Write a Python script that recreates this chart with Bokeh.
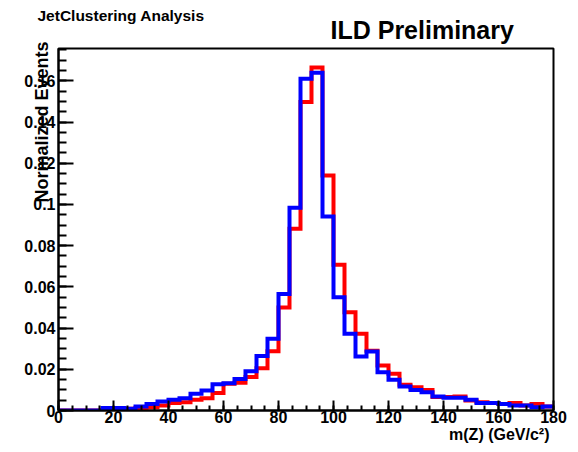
import math
from bokeh.plotting import figure
from bokeh.models import Range1d, FixedTicker, CustomJSTickFormatter, Label
from bokeh.embed import file_html
from bokeh.resources import INLINE

# ---------------- data ----------------
bin_edges = list(range(0, 181, 4))  # 45 bins of 4 GeV

red_vals = [0.0, 0.0, 0.0, 0.0, 0.0003, 0.0005, 0.0008, 0.0012, 0.0016, 0.0024,
            0.0036, 0.0040, 0.0052, 0.0060, 0.0085, 0.0130, 0.0135, 0.0162, 0.0205, 0.0288,
            0.0500, 0.0882, 0.1497, 0.1665, 0.1141, 0.0707, 0.0477, 0.0372, 0.0290, 0.0218,
            0.0178, 0.0125, 0.0113, 0.0100, 0.0065, 0.0065, 0.0068, 0.0049, 0.0040, 0.0036,
            0.0032, 0.0036, 0.0024, 0.0032, 0.0019]

blue_vals = [0.0, 0.0, 0.0, 0.0, 0.0012, 0.0012, 0.0008, 0.0020, 0.0032, 0.0044,
             0.0052, 0.0060, 0.0081, 0.0097, 0.0128, 0.0132, 0.0153, 0.0190, 0.0265, 0.0348,
             0.0566, 0.0984, 0.1610, 0.1639, 0.0942, 0.0550, 0.0372, 0.0262, 0.0286, 0.0186,
             0.0149, 0.0117, 0.0099, 0.0089, 0.0068, 0.0062, 0.0062, 0.0052, 0.0036, 0.0036,
             0.0032, 0.0024, 0.0024, 0.0016, 0.0019]

x_ticks = [0, 20, 40, 60, 80, 100, 120, 140, 160, 180]
x_tick_labels = ["0", "20", "40", "60", "80", "100", "120", "140", "160", "180"]
x_minor_ticks = list(range(0, 181, 5))

y_ticks = [0.0, 0.02, 0.04, 0.06, 0.08, 0.10, 0.12, 0.14, 0.16]
y_tick_labels = ["0", "0.02", "0.04", "0.06", "0.08", "0.1", "0.12", "0.14", "0.16"]
y_minor_ticks = [i * 0.005 for i in range(0, 36)]

title_left = "JetClustering Analysis"
title_right = "ILD Preliminary"
x_title = "m(Z) (GeV/c\u00b2)"
y_title = "Normalized Events"

# ---------------- layout ----------------
FL, FR, FT, FB = 58, 553, 48, 410          # frame edges in picture pixels
XMAX = 180.0
YMAX = 0.1757
FONT = "Liberation Sans"


def xd(px):
    return (px - FL) / (FR - FL) * XMAX


def yd(py):
    return (FB - py) / (FB - FT) * YMAX


p = figure(width=570, height=444, output_backend="svg", toolbar_location=None,
           x_range=Range1d(0, XMAX), y_range=Range1d(0, YMAX),
           min_border_left=FL, min_border_right=570 - FR, min_border_top=FT,
           min_border_bottom=444 - FB)
p.frame_width = FR - FL
p.frame_height = FB - FT
p.grid.visible = False
p.background_fill_color = "white"
p.border_fill_color = "white"
p.outline_line_color = "black"
p.outline_line_width = 2

for vals, color in [(red_vals, "#ff0000"), (blue_vals, "#0000ff")]:
    p.step(x=bin_edges, y=list(vals) + [vals[-1]], mode="after",
           line_color=color, line_width=4, line_join="miter")

fmt_code = """
let best = -1, bd = 1e9;
for (let i = 0; i < tv.length; i++) {
  const d = Math.abs(tv[i] - tick);
  if (d < bd) { bd = d; best = i; }
}
return (best >= 0 && bd < 1e-6) ? tl[best] : '';
"""

xa = p.xaxis[0]
xa.ticker = FixedTicker(ticks=x_ticks, minor_ticks=x_minor_ticks)
xa.formatter = CustomJSTickFormatter(args=dict(tv=x_ticks, tl=x_tick_labels), code=fmt_code)
ya = p.yaxis[0]
ya.ticker = FixedTicker(ticks=y_ticks, minor_ticks=y_minor_ticks)
ya.formatter = CustomJSTickFormatter(args=dict(tv=y_ticks, tl=y_tick_labels), code=fmt_code)

for ax, maj, mnr, std in [(xa, 10, 5, 0), (ya, 15, 8, 3)]:
    ax.axis_line_color = "black"
    ax.axis_line_width = 2
    ax.major_tick_in = maj
    ax.major_tick_out = 0
    ax.minor_tick_in = mnr
    ax.minor_tick_out = 0
    ax.major_tick_line_width = 2
    ax.minor_tick_line_width = 2
    ax.major_tick_line_color = "black"
    ax.minor_tick_line_color = "black"
    ax.major_label_text_font = FONT
    ax.major_label_text_font_style = "bold"
    ax.major_label_text_font_size = "16px"
    ax.major_label_text_color = "black"
    ax.major_label_standoff = std

common = dict(text_font=FONT, text_font_style="bold", text_color="black")

# texts outside the frame go into side panels (annotations there are not clipped)
p.add_layout(Label(x=xd(330), y=yd(29.5), text=title_right, text_font_size="25px",
                   text_align="left", text_baseline="middle", **common), "above")
p.add_layout(Label(x=xd(37), y=yd(14.5), text=title_left, text_font_size="15.5px",
                   text_align="left", text_baseline="middle", **common), "above")
p.add_layout(Label(x=xd(549), y=yd(433.5), text=x_title, text_font_size="16px",
                   text_align="right", text_baseline="middle", **common), "below")
p.add_layout(Label(x=xd(41), y=yd(41), text=y_title, angle=math.pi / 2,
                   text_font_size="18px", text_align="right", text_baseline="middle",
                   **common), "left")

open("out.html", "w").write(file_html(p, INLINE))
